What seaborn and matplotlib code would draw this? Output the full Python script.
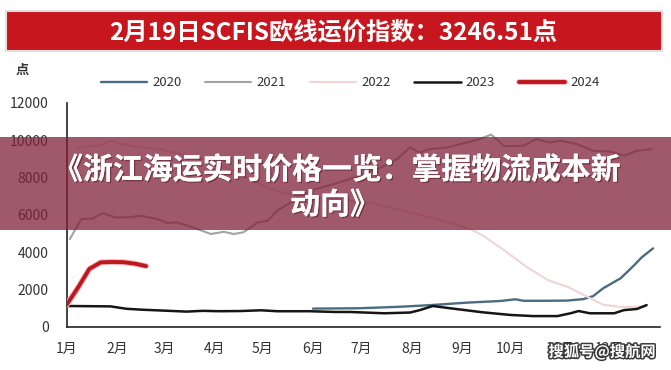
import matplotlib
matplotlib.use("Agg")
import matplotlib.pyplot as plt
import matplotlib.patheffects as pe
from matplotlib.patches import Rectangle
import seaborn as sns

# ---------------- data (day of year, index points) ----------------
days_2020 = [152, 181, 206, 225, 247, 268, 277, 282, 296, 309, 319, 325, 331, 342, 350, 355, 362]
index_2020 = [970, 990, 1070, 1160, 1290, 1380, 1470, 1390, 1390, 1400, 1480, 1640, 2050, 2600, 3270, 3720, 4200]

days_2021 = [2, 9, 16, 22, 30, 38, 46, 56, 62, 68, 78, 89, 97, 103, 109, 118, 124, 130, 138, 150,
             167, 181, 194, 204, 212, 218, 224, 235, 243, 255, 262, 270, 282, 290, 298, 305, 315,
             325, 336, 344, 352, 361]
index_2021 = [4700, 5770, 5800, 6090, 5860, 5860, 5950, 5770, 5560, 5590, 5320, 4970, 5090, 4970, 5060,
              5590, 5680, 6220, 6660, 7290, 7700, 8090, 8540, 8990, 9610, 9340, 9520, 9610, 9790, 10060,
              10300, 9680, 9700, 10060, 9880, 9970, 9790, 9430, 9380, 9170, 9430, 9520]

days_2022 = [6, 12, 20, 27, 34, 43, 58, 73, 89, 104, 120, 132, 144, 163, 187, 208, 229, 249, 257,
             270, 284, 297, 309, 322, 331, 342, 357]
index_2022 = [9550, 9650, 9700, 9970, 9800, 9660, 9500, 9200, 8900, 8300, 7600, 7200, 7000, 6850, 6650,
              6220, 5770, 5240, 4880, 4100, 3200, 2500, 2150, 1580, 1180, 1060, 1080]

days_2023 = [0, 14, 27, 37, 47, 58, 74, 84, 95, 107, 120, 130, 150, 166, 175, 196, 212, 218, 226,
             237, 257, 274, 288, 303, 311, 316, 323, 338, 344, 352, 358]
index_2023 = [1110, 1100, 1090, 960, 910, 870, 810, 850, 830, 840, 880, 830, 830, 790, 790, 720, 760,
              890, 1110, 985, 770, 630, 570, 570, 720, 840, 720, 720, 890, 950, 1160]

days_2024 = [0, 7, 14, 21, 28, 35, 42, 49]
index_2024 = [1180, 2100, 3100, 3450, 3470, 3460, 3380, 3250]

years = ["2020", "2021", "2022", "2023", "2024"]
month_starts = [0, 31, 60, 91, 121, 152, 182, 213, 244, 274, 305, 335, 366]
month_labels = ["1月", "2月", "3月", "4月", "5月", "6月", "7月", "8月", "9月", "10月", "11月", "12月", ""]
y_ticks = [0, 2000, 4000, 6000, 8000, 10000, 12000]

title_text = "2月19日SCFIS欧线运价指数：3246.51点"
overlay_line1 = "《浙江海运实时价格一览：掌握物流成本新"
overlay_line2 = "动向》"
unit_text = "点"
watermark = "搜狐号@搜航网"

series = {
    "2020": (days_2020, index_2020),
    "2021": (days_2021, index_2021),
    "2022": (days_2022, index_2022),
    "2023": (days_2023, index_2023),
    "2024": (days_2024, index_2024),
}
colors = {"2020": "#4b6b80", "2021": "#a3a3a3", "2022": "#efd5d6", "2023": "#151515", "2024": "#c1161d"}
widths = {"2020": 1.7, "2021": 1.5, "2022": 1.5, "2023": 1.8, "2024": 2.8}

# ---------------- figure ----------------
sns.set_theme(style="white")
plt.rcParams["font.family"] = ["Noto Sans CJK SC", "DejaVu Sans"]

fig = plt.figure(figsize=(6.71, 3.70), dpi=100)
fig.patch.set_facecolor("white")
ax = fig.add_axes([0.0994, 0.117, 0.8836, 0.605])

for yr in years:
    d, v = series[yr]
    kw = {}
    if yr == "2024":
        kw["path_effects"] = [pe.Stroke(linewidth=4.2, foreground="#f2b9b9"), pe.Normal()]
    sns.lineplot(x=d, y=v, ax=ax, color=colors[yr], lw=widths[yr], label=yr,
                 estimator=None, sort=False, zorder=3 if yr == "2024" else 2, **kw)

ax.set_xlim(0, 366)
ax.set_ylim(0, 12000)
ax.set_xticks(month_starts)
ax.set_xticklabels(month_labels)
ax.set_yticks(y_ticks)
ax.set_yticklabels([str(t) for t in y_ticks])
ax.tick_params(axis="both", direction="in", length=4, width=1.1, color="#222",
               labelsize=10, labelcolor="#333")
ax.tick_params(axis="y", pad=13)
ax.tick_params(axis="x", pad=11)
for s in ["top", "right"]:
    ax.spines[s].set_visible(False)
for s in ["left", "bottom"]:
    ax.spines[s].set_color("#222")
    ax.spines[s].set_linewidth(1.2)
ax.set_xlabel("")
ax.set_ylabel("")
ax.grid(False)

leg = ax.legend(loc="center", bbox_to_anchor=(0.522, 0.776), bbox_transform=fig.transFigure,
                ncol=5, frameon=False, fontsize=9.5, handlelength=3.5, handletextpad=0.4,
                columnspacing=1.8)
for t in leg.get_texts():
    t.set_color("#333")

fig.text(22 / 671, 1 - 70 / 370, unit_text, ha="center", va="center", fontsize=9.5,
         fontweight="bold", color="#333")

# title banner
fig.add_artist(Rectangle((6 / 671, 1 - 51 / 370), 656 / 671, 40 / 370, transform=fig.transFigure,
                         facecolor="#c8161e", edgecolor="#e6dede", lw=1.5, zorder=5))
fig.text(333 / 671, 1 - 32 / 370, title_text, ha="center", va="center", fontsize=17.5,
         fontweight="heavy", color="white", zorder=6)

# overlay band
fig.add_artist(Rectangle((0, 1 - 230 / 370), 1, 93 / 370, transform=fig.transFigure,
                         facecolor=(0.503, 0.132, 0.221), alpha=0.75, lw=0, zorder=10))
shadow = [pe.withSimplePatchShadow(offset=(1, -1), shadow_rgbFace="#5a2030", alpha=0.6), pe.Normal()]
fig.text(337 / 671, 1 - 170 / 370, overlay_line1, ha="center", va="center", fontsize=21.5,
         fontweight="heavy", color="white", zorder=11, path_effects=shadow)
fig.text(335 / 671, 1 - 205 / 370, overlay_line2, ha="center", va="center", fontsize=21.5,
         fontweight="heavy", color="white", zorder=11, path_effects=shadow)

fig.text(602 / 671, 1 - 352 / 370, watermark, ha="center", va="center", fontsize=11,
         fontweight="bold", color="white", zorder=12,
         path_effects=[pe.withStroke(linewidth=2.2, foreground="#3a3a3a")])

fig.savefig("out.png", dpi=100)
